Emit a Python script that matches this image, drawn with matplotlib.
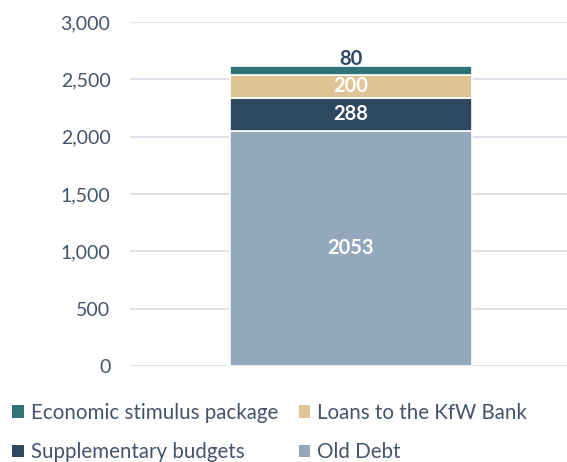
import numpy as np
import matplotlib.pyplot as plt
from matplotlib.patches import Patch

plt.rcParams['font.family'] = ['Lato', 'DejaVu Sans']

# stacked bar, bottom to top
labels = ['Old Debt', 'Supplementary budgets', 'Loans to the KfW Bank', 'Economic stimulus package']
values = [2053, 288, 200, 80]
colors = ['#93A8BD', '#2E4862', '#DFC595', '#2F7379']
label_colors = ['white', 'white', 'white', '#2E4862']

yticks = [0, 500, 1000, 1500, 2000, 2500, 3000]
text_col = '#44546A'

fig = plt.figure(figsize=(5.67, 4.62), dpi=100)
ax = fig.add_axes([0.229, 0.208, 0.771, 0.744])

bottom = 0
for lab, v, c, lc in zip(labels, values, colors, label_colors):
    ax.bar(0.005, v, width=0.554, bottom=bottom, color=c, edgecolor='white', linewidth=1.2, zorder=3)
    if lab == 'Economic stimulus package':
        ax.text(0.005, bottom + v + 2, str(v), ha='center', va='baseline', color=lc,
                fontsize=14.5, fontweight='bold', zorder=4)
    else:
        ax.text(0.005, bottom + v / 2, str(v), ha='center', va='center', color=lc,
                fontsize=14.5, fontweight='bold', zorder=4)
    bottom += v

ax.set_xlim(-0.5, 0.5)
ax.set_ylim(0, 3000)
ax.set_yticks(yticks)
ax.set_yticklabels([f'{t:,}' for t in yticks])
ax.set_xticks([])
ax.tick_params(axis='y', length=0, pad=14, labelsize=14, labelcolor=text_col)
ax.grid(axis='y', color='#D3DCE5', linewidth=1.2, zorder=0)
for s in ax.spines.values():
    s.set_visible(False)

# legend: row1 stimulus, loans; row2 supplementary, old debt
order = [3, 1, 2, 0]
handles = [Patch(facecolor=colors[i], label=labels[i]) for i in order]
fig.legend(handles=handles, loc='upper left', bbox_to_anchor=(0.022, 0.128), ncol=2,
           frameon=False, fontsize=14.8, labelcolor=text_col, handlelength=0.55,
           handleheight=0.55, handletextpad=0.35, columnspacing=1.0, labelspacing=0.95,
           borderpad=0, borderaxespad=0)

fig.savefig('out.png', dpi=100)
